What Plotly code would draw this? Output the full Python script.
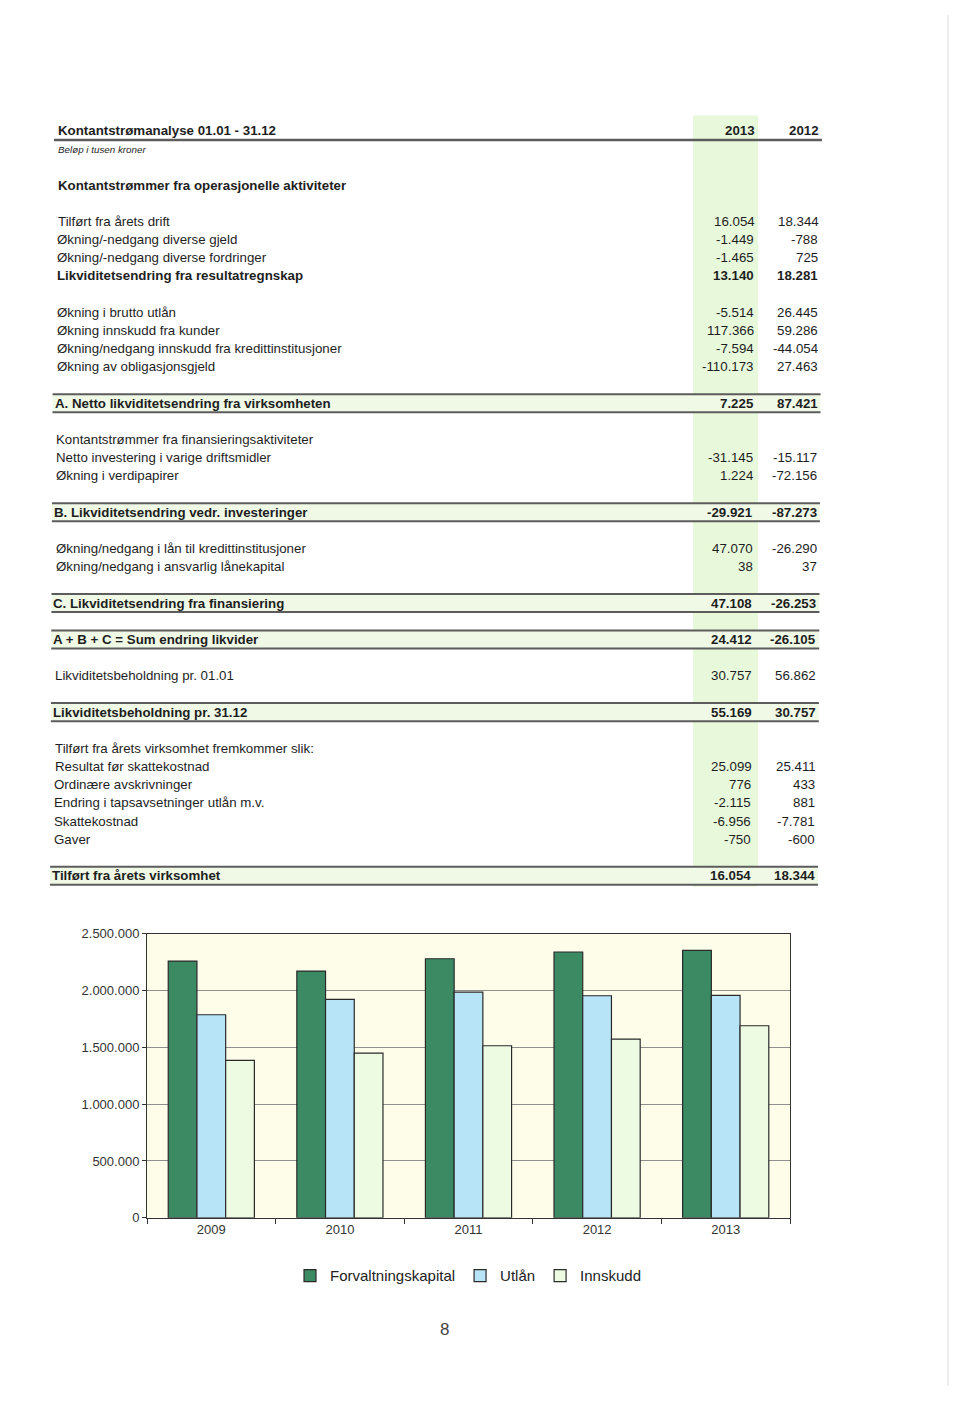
import plotly.graph_objects as go

# the page is 960x1402; the html body puts a margin round the figure, and the
# photographed page comes out slightly squeezed vertically, so page pixels are
# mapped back to figure pixels below
PAGE_W, PAGE_H = 960, 1402
OFF = 8
W, H = PAGE_W - 2 * OFF, PAGE_H - 2 * OFF
SY, DY = 0.989, 14.6
FONT = "Liberation Sans, Arial, sans-serif"
INK = "#1e1e1e"

# bar chart (amounts in NOK 1000)
years = ["2009", "2010", "2011", "2012", "2013"]
forvaltningskapital = [2259000, 2171000, 2280000, 2339000, 2353000]
utlan = [1787000, 1922000, 1986000, 1954000, 1957000]
innskudd = [1385000, 1450000, 1514000, 1573000, 1690000]
y_ticks = [0, 500000, 1000000, 1500000, 2000000, 2500000]

# cash flow statement
col_years = ["2013", "2012"]
row_labels = [
    "Kontantstrømmer fra operasjonelle aktiviteter",
    "Tilført fra årets drift",
    "Økning/-nedgang diverse gjeld",
    "Økning/-nedgang diverse fordringer",
    "Likviditetsendring fra resultatregnskap",
    "Økning i brutto utlån",
    "Økning innskudd fra kunder",
    "Økning/nedgang innskudd fra kredittinstitusjoner",
    "Økning av obligasjonsgjeld",
    "A. Netto likviditetsendring fra virksomheten",
    "Kontantstrømmer fra finansieringsaktiviteter",
    "Netto investering i varige driftsmidler",
    "Økning i verdipapirer",
    "B. Likviditetsendring vedr. investeringer",
    "Økning/nedgang i lån til kredittinstitusjoner",
    "Økning/nedgang i ansvarlig lånekapital",
    "C. Likviditetsendring fra finansiering",
    "A + B + C = Sum endring likvider",
    "Likviditetsbeholdning pr. 01.01",
    "Likviditetsbeholdning pr. 31.12",
    "Tilført fra årets virksomhet fremkommer slik:",
    "Resultat før skattekostnad",
    "Ordinære avskrivninger",
    "Endring i tapsavsetninger utlån m.v.",
    "Skattekostnad",
    "Gaver",
    "Tilført fra årets virksomhet",
]
values_2013 = ["", "16.054", "-1.449", "-1.465", "13.140", "-5.514", "117.366",
               "-7.594", "-110.173", "7.225", "", "-31.145", "1.224", "-29.921",
               "47.070", "38", "47.108", "24.412", "30.757", "55.169", "",
               "25.099", "776", "-2.115", "-6.956", "-750", "16.054"]
values_2012 = ["", "18.344", "-788", "725", "18.281", "26.445", "59.286",
               "-44.054", "27.463", "87.421", "", "-15.117", "-72.156", "-87.273",
               "-26.290", "37", "-26.253", "-26.105", "56.862", "30.757", "",
               "25.411", "433", "881", "-7.781", "-600", "18.344"]

# layout of the table: line number on the page and how each row is drawn
row_lines = [3, 5, 6, 7, 8, 10, 11, 12, 13, 15, 17, 18, 19, 21, 23, 24, 26,
             28, 30, 32, 34, 35, 36, 37, 38, 39, 41]
row_kind = ["bold", "", "", "", "bold", "", "", "", "", "box", "", "", "", "box",
            "", "", "box", "box", "", "box", "", "", "", "", "", "", "box"]


def px(x):
    # page pixel -> paper fraction
    return (x - OFF) / W


def py(y):
    return 1 - (y / SY - DY) / H


def skew(x, y):
    # the scanned page is slightly rotated
    return x - 4 * (y - 130) / 745


def line_y(n):
    return 130 + n * 18.17


annotations = []
shapes = []


def text(x, y, s, anchor="left", size=13.3, bold=False, color=INK):
    if bold:
        s = f"<b>{s}</b>"
    annotations.append(dict(
        x=px(x), y=py(y), xref="paper", yref="paper", text=s,
        showarrow=False, xanchor=anchor, yanchor="middle",
        font=dict(family=FONT, size=size, color=color), borderpad=0,
    ))


def hline(y, width=2, color="#5c5c5c"):
    shapes.append(dict(
        type="line", xref="paper", yref="paper",
        x0=px(skew(54, y)), x1=px(skew(822, y)), y0=py(y), y1=py(y),
        line=dict(color=color, width=width),
    ))


# green highlight of the 2013 column
shapes.append(dict(type="rect", xref="paper", yref="paper", layer="below",
                   x0=px(693), x1=px(758), y0=py(115), y1=py(886),
                   fillcolor="#e7f8db", line=dict(width=0)))

# header
text(57, 130, "Kontantstrømanalyse 01.01 - 31.12", bold=True)
text(756, 130, col_years[0], anchor="right", bold=True)
text(820, 130, col_years[1], anchor="right", bold=True)
hline(139.5, width=2.5)
text(57, 149, "<i>Beløp i tusen kroner</i>", size=9.8)

for label, v13, v12, n, kind in zip(row_labels, values_2013, values_2012,
                                    row_lines, row_kind):
    y = line_y(n)
    bold = kind in ("bold", "box")
    if kind == "box":
        shapes.append(dict(type="rect", xref="paper", yref="paper", layer="below",
                           x0=px(skew(54, y)), x1=px(skew(822, y)),
                           y0=py(y - 9), y1=py(y + 9),
                           fillcolor="#eff9e6", line=dict(width=0)))
        hline(y - 9)
        hline(y + 9)
    x0 = 55 if kind == "box" else 57
    text(skew(x0, y), y, label, bold=bold)
    if v13:
        text(skew(756, y), y, v13, anchor="right", bold=bold)
    if v12:
        text(skew(820, y), y, v12, anchor="right", bold=bold)

# chart area on the page
x_dom = [px(147), px(790)]
y_dom = [py(1217), py(933)]

fig = go.Figure()
series = [
    ("Forvaltningskapital", forvaltningskapital, "#3b8a63"),
    ("Utlån", utlan, "#b8e4f7"),
    ("Innskudd", innskudd, "#eefbe3"),
]
for name, vals, color in series:
    fig.add_trace(go.Bar(
        x=years, y=vals, name=name,
        marker=dict(color=color, line=dict(color="#2a2a2a", width=1.2)),
    ))

# page number
text(444, 1329, "8", anchor="center", size=17, color="#444")

# faint scan edge on the right
shapes.append(dict(type="line", xref="paper", yref="paper",
                   x0=px(948), x1=px(948), y0=0, y1=1,
                   line=dict(color="#ececec", width=2)))

fig.update_layout(
    width=W, height=H, autosize=False,
    margin=dict(l=0, r=0, t=0, b=0),
    paper_bgcolor="white", plot_bgcolor="#fdfdea",
    separators=",.",
    barmode="group", bargap=0.33, bargroupgap=0,
    font=dict(family=FONT, size=13, color="#333"),
    xaxis=dict(domain=x_dom, type="category", showline=True, mirror=True,
               linecolor="#333", linewidth=1, ticks="outside", ticklen=5,
               tickson="boundaries", tickcolor="#333", showgrid=False,
               tickfont=dict(size=13, color="#333")),
    yaxis=dict(domain=y_dom, range=[0, 2500000], tickvals=y_ticks,
               tickformat=",d", showline=True, mirror=True, linecolor="#333",
               linewidth=1, ticks="outside", ticklen=4, tickcolor="#333",
               gridcolor="#8f8f8f", gridwidth=1, zeroline=False,
               tickfont=dict(size=13, color="#333")),
    legend=dict(orientation="h", x=px(468), xanchor="center", y=py(1275),
                yanchor="middle", font=dict(size=15, color="#222"),
                itemwidth=30, bgcolor="rgba(0,0,0,0)"),
    annotations=annotations,
    shapes=shapes,
)

fig.write_html("out.html")
